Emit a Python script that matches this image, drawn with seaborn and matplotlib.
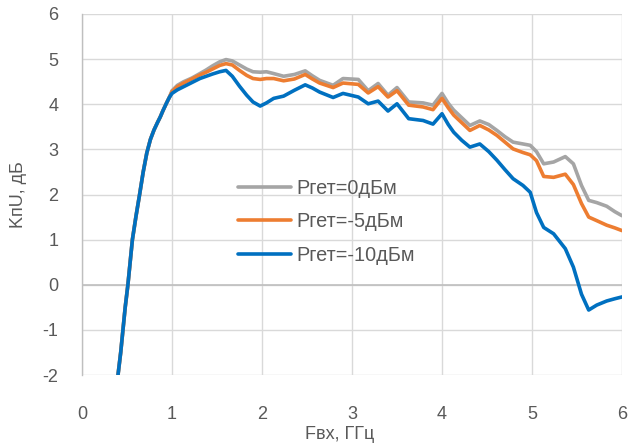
import numpy as np
import pandas as pd
import matplotlib
matplotlib.use("Agg")
import matplotlib.pyplot as plt
import seaborn as sns
from matplotlib.lines import Line2D

freq = [0.40, 0.43, 0.455, 0.48, 0.51, 0.535, 0.56, 0.60, 0.64, 0.68, 0.72, 0.76, 0.80, 0.84,
        0.87, 0.90, 0.94, 0.97,
        1.00, 1.06, 1.13, 1.22, 1.31, 1.38, 1.45, 1.53, 1.60, 1.67,
        1.75, 1.83, 1.90, 1.98, 2.05, 2.13, 2.24, 2.36, 2.48, 2.56,
        2.64, 2.79, 2.90, 3.07, 3.18, 3.29, 3.40, 3.50, 3.63, 3.79,
        3.90, 4.00, 4.07, 4.13, 4.22, 4.31, 4.42, 4.52, 4.61, 4.70,
        4.79, 4.90, 4.98, 5.05, 5.13, 5.24, 5.37, 5.46, 5.55, 5.63,
        5.72, 5.83, 5.92, 6.00]

rise = [-2.0, -1.5, -1.0, -0.5, 0.0, 0.5, 1.0, 1.52, 2.0, 2.5, 2.92, 3.22, 3.43, 3.6,
        3.72, 3.86, 4.03, 4.15]

k_0dbm = rise + [4.30, 4.42, 4.50, 4.58, 4.68, 4.76, 4.85, 4.94, 4.99, 4.96,
                 4.87, 4.78, 4.72, 4.71, 4.72, 4.68, 4.62, 4.66, 4.74, 4.63,
                 4.53, 4.42, 4.57, 4.55, 4.30, 4.46, 4.20, 4.37, 4.05, 4.03,
                 3.98, 4.24, 4.02, 3.87, 3.70, 3.53, 3.63, 3.55, 3.42, 3.28,
                 3.16, 3.12, 3.09, 2.95, 2.68, 2.72, 2.84, 2.68, 2.20, 1.87,
                 1.82, 1.74, 1.62, 1.53]

k_m5dbm = rise + [4.28, 4.39, 4.47, 4.56, 4.65, 4.71, 4.78, 4.86, 4.90, 4.87,
                  4.75, 4.64, 4.57, 4.55, 4.57, 4.57, 4.52, 4.56, 4.66, 4.56,
                  4.47, 4.37, 4.47, 4.44, 4.25, 4.39, 4.16, 4.30, 3.98, 3.94,
                  3.88, 4.13, 3.92, 3.76, 3.59, 3.42, 3.53, 3.43, 3.31, 3.16,
                  3.01, 2.93, 2.88, 2.75, 2.40, 2.38, 2.45, 2.22, 1.80, 1.50,
                  1.42, 1.32, 1.26, 1.20]

k_m10dbm = rise + [4.24, 4.32, 4.39, 4.48, 4.57, 4.62, 4.67, 4.72, 4.75, 4.62,
                   4.40, 4.20, 4.05, 3.96, 4.03, 4.13, 4.18, 4.31, 4.43, 4.36,
                   4.27, 4.15, 4.24, 4.16, 4.01, 4.07, 3.85, 4.01, 3.68, 3.64,
                   3.56, 3.79, 3.55, 3.38, 3.20, 3.05, 3.12, 2.95, 2.76, 2.55,
                   2.35, 2.20, 2.05, 1.60, 1.27, 1.13, 0.80, 0.39, -0.21, -0.56,
                   -0.45, -0.36, -0.31, -0.27]

series_names = ["Ргет=0дБм", "Ргет=-5дБм", "Ргет=-10дБм"]
x_ticks = [0, 1, 2, 3, 4, 5, 6]
y_ticks = [-2, -1, 0, 1, 2, 3, 4, 5, 6]

df = pd.concat([
    pd.DataFrame({"f": freq, "k": vals, "s": name})
    for name, vals in zip(series_names, [k_0dbm, k_m5dbm, k_m10dbm])
], ignore_index=True)

sns.set_style("white")
plt.rcParams["font.family"] = ["Liberation Sans", "DejaVu Sans"]

fig = plt.figure(figsize=(6.30, 4.43), dpi=100)
ax = fig.add_axes([82 / 630, 1 - 375 / 443, 540 / 630, 361 / 443])

palette = {series_names[0]: "#A5A5A5", series_names[1]: "#ED7D31", series_names[2]: "#0070C0"}
sns.lineplot(data=df, x="f", y="k", hue="s", hue_order=series_names, palette=palette,
             sort=False, estimator=None, linewidth=2.6, ax=ax, legend=False,
             solid_joinstyle="round", solid_capstyle="round")

ax.set_xlim(0, 6)
ax.set_ylim(-2, 6)
ax.set_xticks(x_ticks)
ax.set_yticks(y_ticks)
ax.set_xticklabels([str(t) for t in x_ticks])
ax.set_yticklabels([str(t) for t in y_ticks])
ax.grid(True, color="#D9D9D9", linewidth=1.0)
ax.set_axisbelow(True)
ax.axhline(0, color="#BFBFBF", linewidth=1.2, zorder=1)
for side in ["top", "right", "bottom"]:
    ax.spines[side].set_visible(False)
ax.spines["left"].set_color("#BFBFBF")
ax.spines["left"].set_linewidth(1.0)
ax.tick_params(axis="both", length=0, labelsize=13, colors="#595959")
ax.tick_params(axis="y", pad=17)
ax.tick_params(axis="x", pad=22)

ax.set_xlabel("Fвх, ГГц", fontsize=13, color="#595959")
ax.set_ylabel("KпU, дБ", fontsize=13, color="#595959")
ax.xaxis.set_label_coords((340 - 82) / 540, (375 - 426) / 361)
ax.yaxis.set_label_coords((27 - 82) / 540, 0.5)

handles = [Line2D([], [], color=palette[n], linewidth=2.6) for n in series_names]
leg = ax.legend(handles, series_names, loc="upper left",
                bbox_to_anchor=((238 - 82) / 540, (375 - 179) / 361),
                frameon=False, fontsize=14.3, handlelength=2.65, handletextpad=0.3,
                labelspacing=0.72, borderpad=0, borderaxespad=0)
for t in leg.get_texts():
    t.set_color("#595959")

fig.savefig("out.png", dpi=100)
